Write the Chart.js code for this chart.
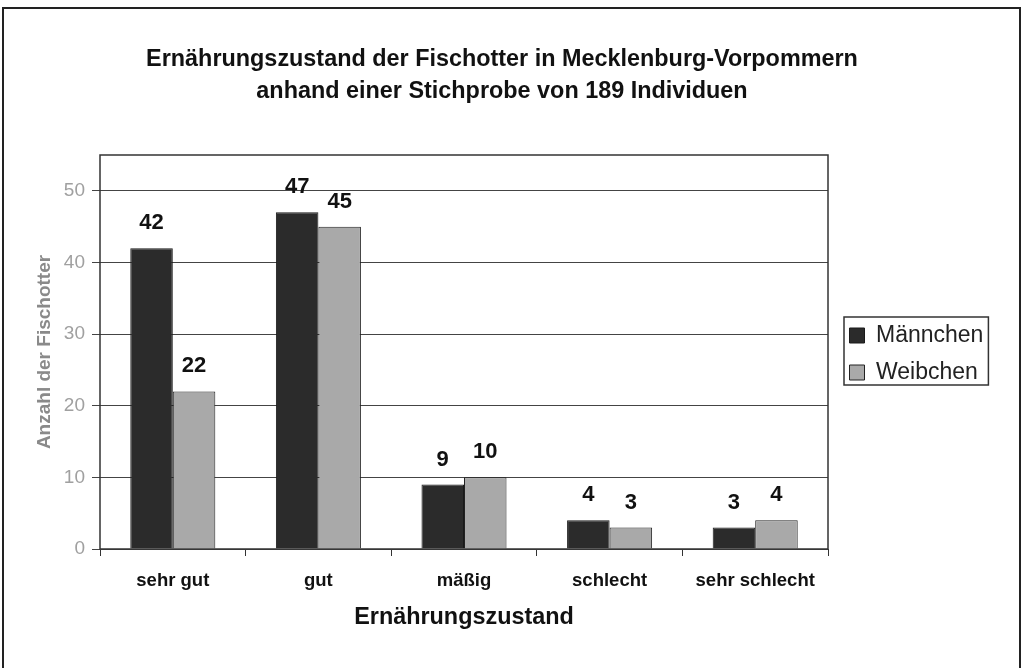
<!DOCTYPE html>
<html><head><meta charset="utf-8">
<script src="https://cdn.jsdelivr.net/npm/chart.js@4.4.1/dist/chart.umd.min.js"></script>
<style>html,body{margin:0;padding:0;background:#fff}#wrap{width:1024px;height:668px;position:relative}</style>
</head><body><div id="wrap"><canvas id="c" width="1024" height="668"></canvas></div>
<script>
const categories = ['sehr gut', 'gut', 'mäßig', 'schlecht', 'sehr schlecht'];
const maennchen = [42, 47, 9, 4, 3];
const weibchen = [22, 45, 10, 3, 4];
const seriesNames = ['Männchen', 'Weibchen'];
const titleLines = ['Ernährungszustand der Fischotter in Mecklenburg-Vorpommern', 'anhand einer Stichprobe von 189 Individuen'];
const xTitle = 'Ernährungszustand';
const yTitle = 'Anzahl der Fischotter';
const yMin = 0, yMax = 55, yStep = 10;

const FONT = '"Liberation Sans", Arial, sans-serif';
const LEGEND_W = 160;

const framePlugin = {
  id: 'frame',
  afterInit(chart) {
    const lg = chart.legend;
    if (lg) {
      const origFit = lg.fit.bind(lg);
      lg.fit = function () { origFit(); this.width = LEGEND_W; };
    }
  },
  afterLayout(chart) {
    const lg = chart.legend;
    const ca = chart.chartArea;
    if (lg) {
      const dx = 7.5, dy = 2;
      lg.left += dx; lg.right += dx;
      lg.top = ca.top + dy; lg.bottom = ca.bottom + dy;
      lg.height = lg.bottom - lg.top;
    }
  },
  beforeDraw(chart) {
    const ctx = chart.ctx;
    ctx.save();
    ctx.fillStyle = '#ffffff';
    ctx.fillRect(0, 0, chart.width, chart.height);
    ctx.restore();
  },
  afterDraw(chart) {
    const ctx = chart.ctx;
    const ca = chart.chartArea;
    ctx.save();
    ctx.strokeStyle = '#222';
    ctx.lineWidth = 2;
    ctx.strokeRect(3, 8, 1017, 700);
    ctx.strokeStyle = '#333';
    ctx.lineWidth = 1.5;
    ctx.strokeRect(ca.left, ca.top, ca.right - ca.left, ca.bottom - ca.top);
    const hb = chart.legend && chart.legend.legendHitBoxes;
    if (hb && hb.length) {
      let l = Infinity, t = Infinity, r = -Infinity, b = -Infinity;
      hb.forEach(h => { l = Math.min(l, h.left); t = Math.min(t, h.top); r = Math.max(r, h.left + h.width); b = Math.max(b, h.top + h.height); });
      ctx.strokeStyle = '#333';
      ctx.lineWidth = 1.5;
      ctx.strokeRect(l - 5.5, t - 7, (r - l) + 10.5, (b - t) + 8);
    }
    ctx.restore();
  }
};

const valueLabels = {
  id: 'valueLabels',
  afterDatasetsDraw(chart) {
    const ctx = chart.ctx;
    ctx.save();
    ctx.fillStyle = '#111';
    ctx.font = 'bold 22px ' + FONT;
    ctx.textAlign = 'center';
    ctx.textBaseline = 'middle';
    chart.data.datasets.forEach((ds, i) => {
      const meta = chart.getDatasetMeta(i);
      meta.data.forEach((bar, j) => {
        ctx.fillText(String(ds.data[j]), bar.x, bar.y - 25);
      });
    });
    ctx.restore();
  }
};

new Chart(document.getElementById('c'), {
  type: 'bar',
  data: {
    labels: categories,
    datasets: [
      { label: seriesNames[0], data: maennchen, backgroundColor: '#2b2b2b', borderColor: '#1a1a1a', borderWidth: 1, categoryPercentage: 0.584, barPercentage: 1.0 },
      { label: seriesNames[1], data: weibchen, backgroundColor: '#a9a9a9', borderColor: '#222', borderWidth: 1, categoryPercentage: 0.584, barPercentage: 1.0 }
    ]
  },
  options: {
    responsive: false,
    devicePixelRatio: 1,
    animation: false,
    layout: { padding: { top: 0, left: 16, right: 36, bottom: 32 } },
    plugins: {
      title: {
        display: true,
        text: titleLines,
        color: '#111',
        font: { family: FONT, size: 23.4, weight: 'bold', lineHeight: 32 / 23.4 },
        padding: { top: 44, bottom: 47 }
      },
      legend: {
        display: true,
        position: 'right',
        labels: {
          color: '#222',
          font: { family: FONT, size: 23 },
          boxWidth: 15,
          boxHeight: 15,
          padding: 14
        }
      },
      tooltip: { enabled: false }
    },
    scales: {
      x: {
        grid: { display: true, drawOnChartArea: false, drawTicks: true, tickLength: 7, color: '#333', offset: true },
        border: { display: false },
        ticks: { color: '#111', font: { family: FONT, size: 18.5, weight: 'bold' }, padding: 14, maxRotation: 0, autoSkip: false },
        title: { display: true, text: xTitle, color: '#111', font: { family: FONT, size: 23.4, weight: 'bold' }, padding: { top: 4, bottom: 4 } },
        afterFit(scale) { scale.height = 87; }
      },
      y: {
        min: yMin,
        max: yMax,
        grid: { color: '#444', lineWidth: 1, drawTicks: true, tickLength: 8 },
        border: { display: false },
        ticks: { stepSize: yStep, includeBounds: false, color: '#a0a0a0', font: { family: FONT, size: 19 }, padding: 7 },
        title: { display: true, text: yTitle, color: '#8a8a8a', font: { family: FONT, size: 19, weight: 'bold' }, padding: { top: 17, bottom: 0 } },
        afterFit(scale) { scale.width = 84; }
      }
    }
  },
  plugins: [framePlugin, valueLabels]
});
</script>
</body></html>
